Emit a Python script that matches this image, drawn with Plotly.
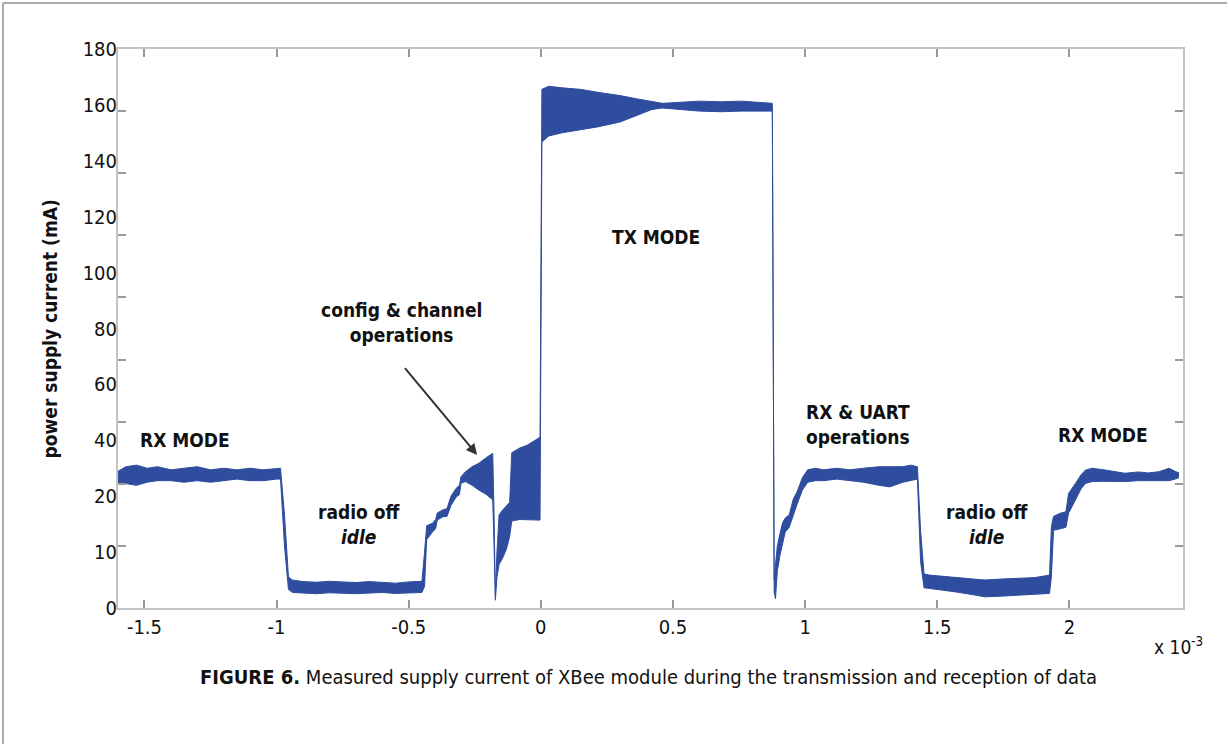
import numpy as np
import plotly.graph_objects as go

# ---------------- data (time in units of 1e-3 s, current on the plot's linear scale) -------------
t_ms = [
    -1.600, -1.570, -1.530, -1.490, -1.450, -1.400, -1.350, -1.300, -1.250, -1.200, -1.150, -1.100, -1.050, -1.000, -0.985,
    -0.970, -0.955,
    -0.940, -0.900, -0.850, -0.800, -0.750, -0.700, -0.650, -0.600, -0.550, -0.500, -0.450,
    -0.440, -0.432, -0.410, -0.398, -0.392, -0.370, -0.355, -0.340, -0.320, -0.308, -0.302, -0.285, -0.260, -0.235, -0.205, -0.182,
    -0.177, -0.172, -0.166, -0.158, -0.145, -0.130, -0.118, -0.110, -0.080, -0.050, -0.020, -0.003,
    0.004, 0.030, 0.080, 0.150, 0.220, 0.300, 0.360, 0.420, 0.460, 0.520, 0.600, 0.680, 0.760, 0.876,
    0.883, 0.888, 0.895, 0.905, 0.915, 0.925, 0.940, 0.955, 0.970, 0.990, 1.010, 1.040, 1.070, 1.120, 1.170, 1.220, 1.280, 1.320, 1.370, 1.400, 1.425,
    1.437, 1.450,
    1.470, 1.520, 1.560, 1.620, 1.680, 1.740, 1.810, 1.870, 1.925,
    1.932, 1.940, 1.965, 1.987, 1.997, 2.023, 2.045, 2.061, 2.086, 2.130, 2.170, 2.210, 2.260, 2.300, 2.340, 2.377, 2.400, 2.415,
]
current_upper = [
    44.0, 45.5, 46.0, 45.0, 45.5, 44.5, 45.0, 45.5, 44.5, 45.0, 44.5, 45.0, 44.5, 45.0, 45.0,
    30.0, 10.0,
    9.0, 8.5, 8.3, 8.6, 8.4, 8.2, 8.5, 8.3, 8.0, 8.4, 8.6,
    18.0, 26.5, 27.3, 28.5, 30.6, 31.6, 32.0, 36.0, 38.6, 39.5, 42.3, 43.9, 45.5, 46.6, 48.5, 49.8,
    30.0, 4.0, 18.0, 30.0, 31.5, 33.0, 34.0, 50.0, 51.5, 52.5, 54.0, 55.0,
    167.0, 168.0, 167.5, 167.0, 166.0, 165.0, 164.0, 163.0, 162.5, 162.8, 163.2, 163.0, 163.2, 162.5,
    9.0, 14.0, 20.0, 24.0, 27.5, 29.0, 30.0, 35.0, 37.5, 42.0, 44.5, 45.0, 44.5, 45.0, 44.5, 45.0, 45.5, 45.5, 45.5, 46.0, 45.5,
    25.0, 11.0,
    10.6, 10.2, 9.9, 9.5, 9.0, 9.3, 9.5, 9.8, 10.6,
    26.2, 29.5, 30.5, 31.0, 36.9, 40.1, 43.0, 44.4, 45.0, 44.5, 44.0, 43.4, 43.8, 43.5, 43.9, 45.0, 44.0, 43.5,
]
current_lower = [
    40.5, 40.0, 39.5, 40.5, 41.0, 41.0, 40.5, 41.0, 40.5, 41.0, 41.5, 41.0, 41.0, 41.5, 41.5,
    20.0, 6.0,
    5.0, 4.8, 4.6, 4.9, 4.7, 4.6, 4.8, 5.0, 4.7, 4.9, 5.0,
    7.0, 22.0, 24.5, 25.5, 28.3, 29.4, 29.5, 33.0, 35.8, 36.5, 40.2, 40.7, 39.5, 38.0, 36.5, 34.8,
    20.0, 2.5, 10.0, 14.0, 16.0, 19.0, 23.0, 28.0, 28.5, 28.5, 28.3, 28.3,
    150.0, 152.0, 153.0, 154.0, 155.0, 156.5, 158.5, 160.5, 161.0, 160.5, 160.0, 159.8, 160.0, 160.0,
    5.0, 3.0, 12.0, 17.0, 21.0, 24.5, 26.0, 30.0, 33.5, 38.0, 40.5, 41.0, 41.0, 41.5, 41.0, 40.5, 39.5, 39.0, 40.5, 41.0, 41.5,
    15.0, 6.5,
    6.3, 5.8, 5.3, 4.5, 3.6, 3.8, 4.2, 4.5, 4.7,
    10.0, 25.0, 25.5, 26.0, 30.5, 34.8, 38.5, 40.1, 40.7, 40.8, 40.7, 40.7, 41.0, 41.0, 41.2, 41.0, 41.5, 42.0,
]

x_tick_values = [-1.5, -1.0, -0.5, 0.0, 0.5, 1.0, 1.5, 2.0]
x_tick_labels = ["-1.5", "-1", "-0.5", "0", "0.5", "1", "1.5", "2"]
y_tick_labels = ["0", "10", "20", "40", "60", "80", "100", "120", "140", "160", "180"]

# annotations: (text, t, value)
region_labels = [
    ("RX MODE", -1.345, 54.0),
    ("radio off<br><i>idle</i>", -0.69, 27.0),
    ("config &amp; channel<br>operations", -0.527, 92.0),
    ("TX MODE", 0.434, 119.6),
    ("RX &amp; UART<br>operations", 1.20, 59.0),
    ("radio off<br><i>idle</i>", 1.686, 27.0),
    ("RX MODE", 2.128, 55.7),
]
arrow_tail = (-0.519, 77.7)
arrow_head = (-0.241, 49.3)

caption_bold = "FIGURE 6."
caption_text = "Measured supply current of XBee module during the transmission and reception of data"

# ---------------- figure -------------------------------------------------------------------------
FONT = "Liberation Sans Narrow, DejaVu Sans Condensed, Arial Narrow, Roboto, sans-serif"
BLUE = "#2e4d9e"
Y_RANGE = [0, 180]
X_RANGE = [-1.6, 2.43]

fig = go.Figure()
fig.add_trace(go.Scatter(x=t_ms, y=current_lower, mode="lines",
                         line=dict(color=BLUE, width=1), hoverinfo="skip", showlegend=False))
fig.add_trace(go.Scatter(x=t_ms, y=current_upper, mode="lines", fill="tonexty",
                         fillcolor=BLUE, line=dict(color=BLUE, width=1),
                         hoverinfo="skip", showlegend=False))
# empty trace to host the label axis
fig.add_trace(go.Scatter(x=[], y=[], yaxis="y2", showlegend=False, hoverinfo="skip"))

for text, tx, vy in region_labels:
    fig.add_annotation(x=tx, y=vy, xref="x", yref="y", text=f"<b>{text}</b>", showarrow=False,
                       font=dict(family=FONT, size=19, color="#111"), align="center")

fig.add_annotation(x=arrow_head[0], y=arrow_head[1], ax=arrow_tail[0], ay=arrow_tail[1],
                   xref="x", yref="y", axref="x", ayref="y", text="", showarrow=True,
                   arrowhead=2, arrowsize=1.1, arrowwidth=2, arrowcolor="#333")

fig.add_annotation(x=-0.0761, y=0.5, xref="paper", yref="paper", text="<b>power supply current (mA)</b>",
                   textangle=-90, showarrow=False, font=dict(family=FONT, size=19, color="#111"))
fig.add_annotation(x=0.971, y=-0.068, xref="paper", yref="paper", xanchor="left", yanchor="middle",
                   text="x 10<sup>-3</sup>",
                   showarrow=False, font=dict(family=FONT, size=19, color="#111"))
fig.add_annotation(x=0.4977, y=-0.1234, xref="paper", yref="paper", yanchor="middle",
                   text=f"<b>{caption_bold}</b> {caption_text}",
                   showarrow=False, font=dict(family=FONT, size=20, color="#111"))

AXIS_LINE = "#c4c4c4"
fig.update_layout(
    width=1229, height=744,
    margin=dict(l=118, r=46, t=49, b=136),
    paper_bgcolor="white", plot_bgcolor="white",
    font=dict(family=FONT, color="#111"),
    xaxis=dict(range=X_RANGE, tickvals=x_tick_values, ticktext=x_tick_labels,
               ticks="inside", ticklen=8, tickwidth=1.5, tickcolor="#999",
               showline=True, linecolor=AXIS_LINE, linewidth=2, mirror="ticks",
               showgrid=False, zeroline=False, tickfont=dict(size=20, family=FONT)),
    yaxis=dict(range=Y_RANGE, tickvals=list(range(0, 181, 20)), showticklabels=False,
               ticks="inside", ticklen=8, tickwidth=1.5, tickcolor="#999",
               showline=True, linecolor=AXIS_LINE, linewidth=2, mirror="ticks",
               showgrid=False, zeroline=False),
    yaxis2=dict(range=Y_RANGE, overlaying="y", side="left",
                tickvals=list(np.linspace(Y_RANGE[0], Y_RANGE[1], len(y_tick_labels))),
                ticktext=y_tick_labels, ticks="", showline=False, showgrid=False, zeroline=False,
                tickfont=dict(size=20, family=FONT)),
    shapes=[
        dict(type="line", xref="paper", yref="paper", x0=-0.1080, x1=1.0413, y0=1.0823, y1=1.0823,
             line=dict(color="#aaaaaa", width=2)),
        dict(type="line", xref="paper", yref="paper", x0=-0.1080, x1=-0.1080, y0=-0.2433, y1=1.0823,
             line=dict(color="#aaaaaa", width=2)),
    ],
)

fig.write_html("out.html", config={"displayModeBar": False},
               post_script="document.body.style.margin='0px';")
